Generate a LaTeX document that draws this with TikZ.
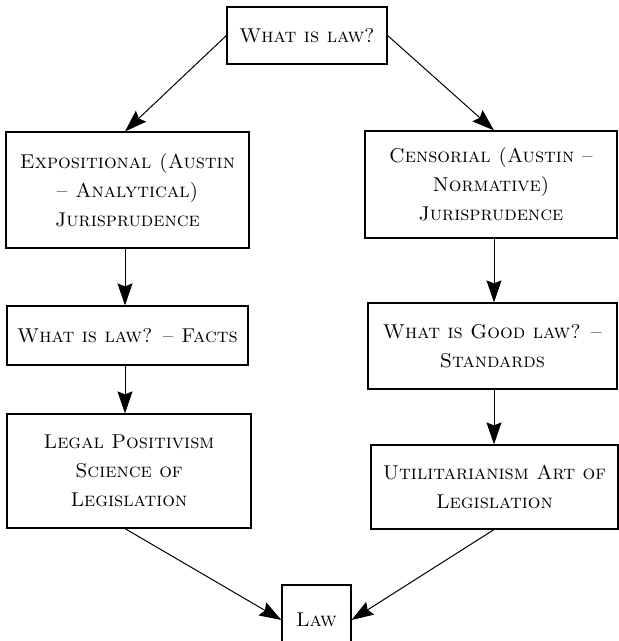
\documentclass[tikz,border=0pt]{standalone}
\usetikzlibrary{arrows.meta,calc}
\begin{document}
\begin{tikzpicture}[x=1pt,y=-1pt,
  box/.style={draw,line width=1.2pt,align=center,inner sep=0pt,
    font=\fontsize{20}{29}\selectfont\scshape},
  arr/.style={line width=1pt,-{Stealth[length=22pt,width=15pt,inset=3pt]}}]
\useasboundingbox (0,0) rectangle (619,641);
% column guides for the vertical connectors
\coordinate (lx) at (125,0);
\coordinate (rx) at (494,0);
% boxes
\node[box,minimum width=160,minimum height=57] (q) at (307,35.5) {What is law?};
\node[box,minimum width=243,minimum height=116] (l1) at (127.5,190)
  {Expositional (Austin\\ -- Analytical)\\ Jurisprudence};
\node[box,minimum width=252,minimum height=107] (r1) at (491,184.5)
  {Censorial (Austin --\\ Normative)\\ Jurisprudence};
\node[box,minimum width=241,minimum height=59] (l2) at (127.5,335.5)
  {What is law? -- Facts};
\node[box,minimum width=249,minimum height=86] (r2) at (492.5,346)
  {What is Good law? --\\ Standards};
\node[box,minimum width=244,minimum height=114] (l3) at (129,471)
  {Legal Positivism\\ Science of\\ Legislation};
\node[box,minimum width=247,minimum height=84] (r3) at (494.5,487)
  {Utilitarianism Art of\\ Legislation};
\node[box,minimum width=69,minimum height=70] (law) at (316.5,620) {Law};
% connectors
\draw[arr] (q.west) -- (l1.north -| lx);
\draw[arr] (q.east) -- (r1.north -| rx);
\draw[arr] (l1.south -| lx) -- (l2.north -| lx);
\draw[arr] (l2.south -| lx) -- (l3.north -| lx);
\draw[arr] (r1.south -| rx) -- (r2.north -| rx);
\draw[arr] (r2.south -| rx) -- (r3.north -| rx);
\draw[arr] (l3.south -| lx) -- (law.west);
\draw[arr] (r3.south -| rx) -- (law.east);
\end{tikzpicture}
\end{document}
